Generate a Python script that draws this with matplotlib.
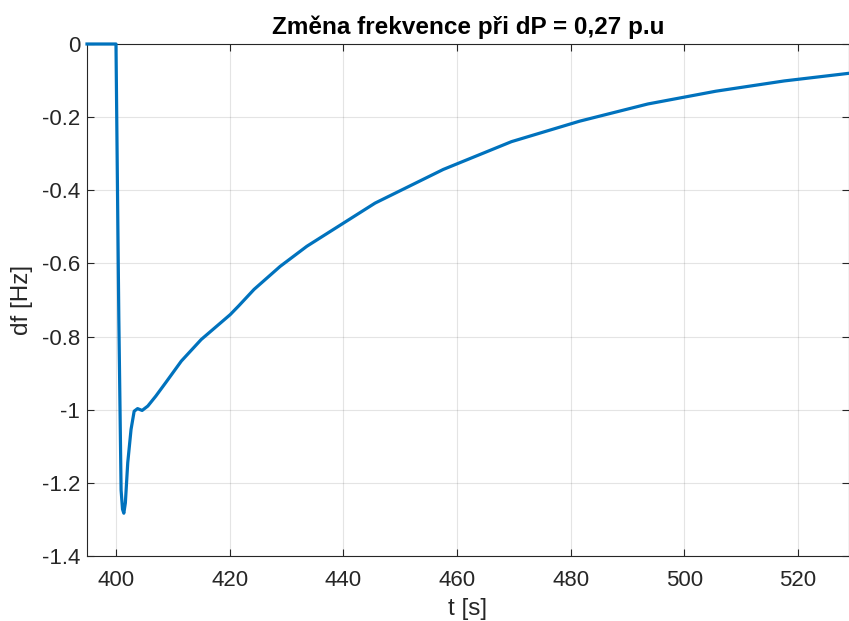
import matplotlib
matplotlib.use("Agg")
import matplotlib.pyplot as plt
from matplotlib import font_manager

names = {f.name for f in font_manager.fontManager.ttflist}
fam = ['Liberation Sans', 'DejaVu Sans']
fam = [f for f in fam if f in names] or ['DejaVu Sans']
plt.rcParams['font.family'] = fam
plt.rcParams['axes.unicode_minus'] = False

# data
t = [394.9, 400.0, 400.5, 400.9, 401.15, 401.38, 401.65, 402.07, 402.65, 403.2,
     403.8, 404.6, 405.6, 407.0, 408.75, 411.5, 415.0, 420.1, 421.6, 424.3,
     428.9, 433.6, 445.6, 457.6, 469.6, 481.6, 493.6, 505.6, 517.6, 529.6]
df = [0.0, 0.0, -0.75, -1.22, -1.272, -1.283, -1.255, -1.145, -1.054, -1.004,
      -0.997, -1.002, -0.99, -0.963, -0.926, -0.867, -0.808, -0.740, -0.716, -0.671,
      -0.608, -0.553, -0.435, -0.343, -0.267, -0.211, -0.164, -0.129, -0.101, -0.079]
xticks = [400, 420, 440, 460, 480, 500, 520]
yticks = [0, -0.2, -0.4, -0.6, -0.8, -1.0, -1.2, -1.4]
yticklabels = ['0', '-0.2', '-0.4', '-0.6', '-0.8', '-1', '-1.2', '-1.4']

fig = plt.figure(figsize=(8.49, 6.21), dpi=100)
ax = fig.add_axes([87/849, 1-556/621, 1-87/849, (556-44)/621])
ax.plot(t, df, color='#0072BD', lw=2.3, zorder=5, clip_on=False,
        solid_joinstyle='round')
ax.set_xlim(394.9, 529)
ax.set_ylim(-1.4, 0)
ax.set_xticks(xticks)
ax.set_yticks(yticks)
ax.set_yticklabels(yticklabels)
ax.grid(True, color='#262626', alpha=0.12, lw=0.8)
ax.set_axisbelow(True)
for s in ax.spines.values():
    s.set_color('#262626')
    s.set_linewidth(0.8)
ax.tick_params(direction='in', length=5, width=0.8, colors='#262626',
               labelsize=16, top=True, right=True)
ax.tick_params(axis='x', pad=10)
ax.tick_params(axis='y', pad=5)
for lab in ax.get_xticklabels() + ax.get_yticklabels():
    lab.set_color('#262626')
ax.set_xlabel('t [s]', fontsize=17.5, color='#262626', labelpad=5)
ax.set_ylabel('df [Hz]', fontsize=17.5, color='#262626', labelpad=6)
ax.set_title('Změna frekvence při dP = 0,27 p.u', fontsize=17.5, fontweight='bold',
             color='black', pad=7)
fig.savefig('out.png', dpi=100)
